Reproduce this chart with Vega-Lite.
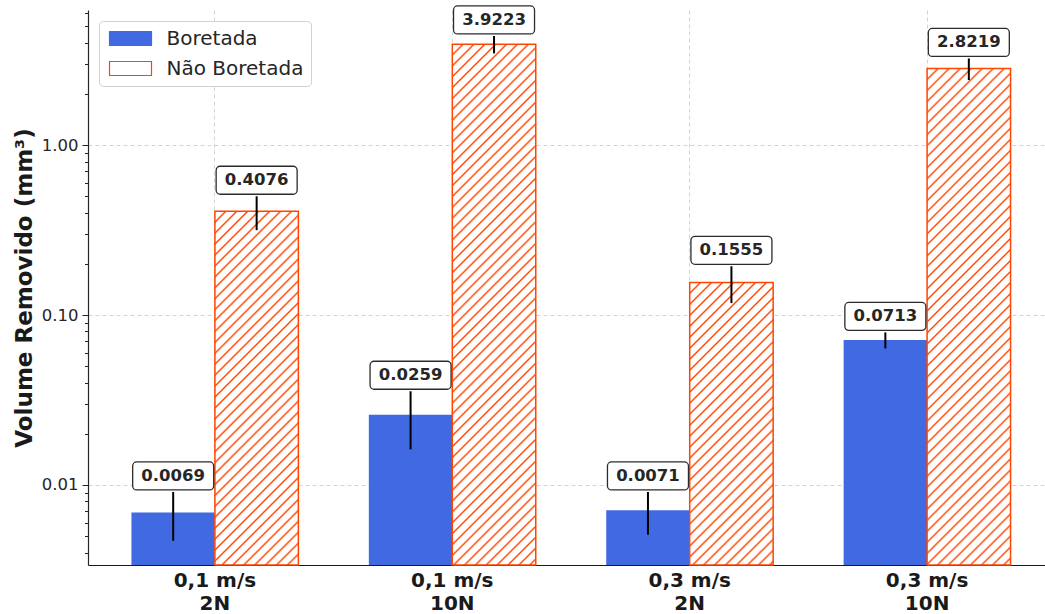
{
  "$schema": "https://vega.github.io/schema/vega-lite/v6.json",
  "width": 957,
  "height": 555,
  "autosize": {"type": "none"},
  "padding": {"left": 88, "top": 10, "right": 0, "bottom": 49},
  "background": "white",
  "config": {
    "view": {"stroke": null},
    "font": "DejaVu Sans"
  },
  "data": {
    "values": [
      {"condicao": "0,1 m/s|2N", "tipo": "Boretada", "valor": 0.0069, "erro": 0.0022},
      {"condicao": "0,1 m/s|2N", "tipo": "Não Boretada", "valor": 0.4076, "erro": 0.092},
      {"condicao": "0,1 m/s|10N", "tipo": "Boretada", "valor": 0.0259, "erro": 0.0097},
      {"condicao": "0,1 m/s|10N", "tipo": "Não Boretada", "valor": 3.9223, "erro": 0.46},
      {"condicao": "0,3 m/s|2N", "tipo": "Boretada", "valor": 0.0071, "erro": 0.002},
      {"condicao": "0,3 m/s|2N", "tipo": "Não Boretada", "valor": 0.1555, "erro": 0.038},
      {"condicao": "0,3 m/s|10N", "tipo": "Boretada", "valor": 0.0713, "erro": 0.0077},
      {"condicao": "0,3 m/s|10N", "tipo": "Não Boretada", "valor": 2.8219, "erro": 0.41}
    ]
  },
  "encoding": {
    "x": {
      "field": "condicao", "type": "nominal", "sort": null,
      "scale": {"range": [0, 966], "paddingInner": 0.2968, "paddingOuter": 0.183},
      "axis": {
        "title": null, "labelAngle": 0, "ticks": false, "bandPosition": 0.5,
        "labelExpr": "split(datum.label, '|')",
        "labelFont": "DejaVu Sans", "labelFontWeight": "bold", "labelFontSize": 20,
        "labelLineHeight": 23, "labelPadding": 5, "labelColor": "#1a1a1a",
        "domainColor": "#1a1a1a", "domainWidth": 1.2,
        "grid": true, "gridDash": [4, 3], "gridColor": "#c8c8c8", "gridWidth": 0.8
      }
    },
    "xOffset": {"field": "tipo", "type": "nominal", "scale": {"domain": ["Boretada", "Não Boretada"]}}
  },
  "layer": [
    {
      "mark": {"type": "bar"},
      "encoding": {
        "y": {
          "field": "valor", "type": "quantitative", "stack": null, "title": "Volume Removido (mm³)",
          "scale": {"type": "log", "domain": [0.003383, 6.23], "nice": false},
          "axis": {
            "values": [0.004, 0.005, 0.006, 0.007, 0.008, 0.009, 0.01, 0.02, 0.03, 0.04, 0.05, 0.06, 0.07, 0.08, 0.09, 0.1, 0.2, 0.3, 0.4, 0.5, 0.6, 0.7, 0.8, 0.9, 1, 2, 3, 4, 5, 6],
            "labelExpr": "indexof([0.01, 0.1, 1], datum.value) >= 0 ? format(datum.value, '.2f') : ''",
            "labelOverlap": false,
            "labelFont": "DejaVu Sans", "labelFontSize": 16.5, "labelColor": "#262626", "labelPadding": 4,
            "tickSize": {"condition": {"test": "indexof([0.01, 0.1, 1], datum.value) >= 0", "value": 6}, "value": 3.5},
            "tickColor": "#262626", "tickWidth": 1,
            "domainColor": "#262626", "domainWidth": 1.2,
            "grid": true, "gridDash": [4, 3], "gridColor": "#c8c8c8", "gridWidth": 0.8,
            "gridOpacity": {"condition": {"test": "indexof([0.01, 0.1, 1], datum.value) >= 0", "value": 1}, "value": 0},
            "titleFont": "DejaVu Sans", "titleFontWeight": "bold", "titleFontSize": 23, "titleColor": "#1a1a1a", "titlePadding": 5
          }
        },
        "color": {
          "field": "tipo", "type": "nominal",
          "scale": {"domain": ["Boretada", "Não Boretada"], "range": ["#4169e1", "#ffffff"]},
          "legend": {
            "title": null, "orient": "top-left", "offset": 11,
            "labelFont": "DejaVu Sans", "labelFontSize": 20, "labelColor": "#262626",
            "symbolType": "M-1,-1H5V1H-1Z", "symbolSize": 196, "labelOffset": 40, "rowPadding": 10,
            "padding": 7.5, "strokeColor": "#d0d0d0", "fillColor": "white", "cornerRadius": 4,
            "encode": {
              "symbols": {
                "update": {
                  "fill": [
                    {"test": "datum.value === 'Não Boretada'", "value": {"gradient": "linear", "x1": 0, "y1": 0, "x2": 1.2, "y2": 0.4, "stops": [
                      {"offset": 0.164, "color": "#fff"}, {"offset": 0.2, "color": "#ff4500"}, {"offset": 0.236, "color": "#fff"},
                      {"offset": 0.364, "color": "#fff"}, {"offset": 0.4, "color": "#ff4500"}, {"offset": 0.436, "color": "#fff"},
                      {"offset": 0.564, "color": "#fff"}, {"offset": 0.6, "color": "#ff4500"}, {"offset": 0.636, "color": "#fff"},
                      {"offset": 0.764, "color": "#fff"}, {"offset": 0.8, "color": "#ff4500"}, {"offset": 0.836, "color": "#fff"}
                    ]}},
                    {"value": "#4169e1"}
                  ],
                  "stroke": [
                    {"test": "datum.value === 'Não Boretada'", "value": "#ff4500"},
                    {"value": "#4169e1"}
                  ],
                  "strokeWidth": {"value": 1.2},
                  "opacity": {"value": 1}
                }
              }
            }
          }
        }
      }
    },
    {
      "transform": [{"filter": "datum.tipo === 'Não Boretada' && datum.condicao === '0,1 m/s|2N'"}],
      "mark": {"type": "bar", "stroke": "#ff4500", "strokeWidth": 1.5, "fill": {"gradient": "linear", "x1": 0, "y1": 0, "x2": 0.2764, "y2": 1.17083, "stops": [
        {"offset":0.0204,"color":"#fff"},{"offset":0.025,"color":"#ff4500"},{"offset":0.0296,"color":"#fff"},
        {"offset":0.0454,"color":"#fff"},{"offset":0.05,"color":"#ff4500"},{"offset":0.0546,"color":"#fff"},
        {"offset":0.0704,"color":"#fff"},{"offset":0.075,"color":"#ff4500"},{"offset":0.0796,"color":"#fff"},
        {"offset":0.0954,"color":"#fff"},{"offset":0.1,"color":"#ff4500"},{"offset":0.1046,"color":"#fff"},
        {"offset":0.1204,"color":"#fff"},{"offset":0.125,"color":"#ff4500"},{"offset":0.1296,"color":"#fff"},
        {"offset":0.1454,"color":"#fff"},{"offset":0.15,"color":"#ff4500"},{"offset":0.1546,"color":"#fff"},
        {"offset":0.1704,"color":"#fff"},{"offset":0.175,"color":"#ff4500"},{"offset":0.1796,"color":"#fff"},
        {"offset":0.1954,"color":"#fff"},{"offset":0.2,"color":"#ff4500"},{"offset":0.2046,"color":"#fff"},
        {"offset":0.2204,"color":"#fff"},{"offset":0.225,"color":"#ff4500"},{"offset":0.2296,"color":"#fff"},
        {"offset":0.2454,"color":"#fff"},{"offset":0.25,"color":"#ff4500"},{"offset":0.2546,"color":"#fff"},
        {"offset":0.2704,"color":"#fff"},{"offset":0.275,"color":"#ff4500"},{"offset":0.2796,"color":"#fff"},
        {"offset":0.2954,"color":"#fff"},{"offset":0.3,"color":"#ff4500"},{"offset":0.3046,"color":"#fff"},
        {"offset":0.3204,"color":"#fff"},{"offset":0.325,"color":"#ff4500"},{"offset":0.3296,"color":"#fff"},
        {"offset":0.3454,"color":"#fff"},{"offset":0.35,"color":"#ff4500"},{"offset":0.3546,"color":"#fff"},
        {"offset":0.3704,"color":"#fff"},{"offset":0.375,"color":"#ff4500"},{"offset":0.3796,"color":"#fff"},
        {"offset":0.3954,"color":"#fff"},{"offset":0.4,"color":"#ff4500"},{"offset":0.4046,"color":"#fff"},
        {"offset":0.4204,"color":"#fff"},{"offset":0.425,"color":"#ff4500"},{"offset":0.4296,"color":"#fff"},
        {"offset":0.4454,"color":"#fff"},{"offset":0.45,"color":"#ff4500"},{"offset":0.4546,"color":"#fff"},
        {"offset":0.4704,"color":"#fff"},{"offset":0.475,"color":"#ff4500"},{"offset":0.4796,"color":"#fff"},
        {"offset":0.4954,"color":"#fff"},{"offset":0.5,"color":"#ff4500"},{"offset":0.5046,"color":"#fff"},
        {"offset":0.5204,"color":"#fff"},{"offset":0.525,"color":"#ff4500"},{"offset":0.5296,"color":"#fff"},
        {"offset":0.5454,"color":"#fff"},{"offset":0.55,"color":"#ff4500"},{"offset":0.5546,"color":"#fff"},
        {"offset":0.5704,"color":"#fff"},{"offset":0.575,"color":"#ff4500"},{"offset":0.5796,"color":"#fff"},
        {"offset":0.5954,"color":"#fff"},{"offset":0.6,"color":"#ff4500"},{"offset":0.6046,"color":"#fff"},
        {"offset":0.6204,"color":"#fff"},{"offset":0.625,"color":"#ff4500"},{"offset":0.6296,"color":"#fff"},
        {"offset":0.6454,"color":"#fff"},{"offset":0.65,"color":"#ff4500"},{"offset":0.6546,"color":"#fff"},
        {"offset":0.6704,"color":"#fff"},{"offset":0.675,"color":"#ff4500"},{"offset":0.6796,"color":"#fff"},
        {"offset":0.6954,"color":"#fff"},{"offset":0.7,"color":"#ff4500"},{"offset":0.7046,"color":"#fff"},
        {"offset":0.7204,"color":"#fff"},{"offset":0.725,"color":"#ff4500"},{"offset":0.7296,"color":"#fff"},
        {"offset":0.7454,"color":"#fff"},{"offset":0.75,"color":"#ff4500"},{"offset":0.7546,"color":"#fff"},
        {"offset":0.7704,"color":"#fff"},{"offset":0.775,"color":"#ff4500"},{"offset":0.7796,"color":"#fff"},
        {"offset":0.7954,"color":"#fff"},{"offset":0.8,"color":"#ff4500"},{"offset":0.8046,"color":"#fff"},
        {"offset":0.8204,"color":"#fff"},{"offset":0.825,"color":"#ff4500"},{"offset":0.8296,"color":"#fff"},
        {"offset":0.8454,"color":"#fff"},{"offset":0.85,"color":"#ff4500"},{"offset":0.8546,"color":"#fff"},
        {"offset":0.8704,"color":"#fff"},{"offset":0.875,"color":"#ff4500"},{"offset":0.8796,"color":"#fff"},
        {"offset":0.8954,"color":"#fff"},{"offset":0.9,"color":"#ff4500"},{"offset":0.9046,"color":"#fff"},
        {"offset":0.9204,"color":"#fff"},{"offset":0.925,"color":"#ff4500"},{"offset":0.9296,"color":"#fff"},
        {"offset":0.9454,"color":"#fff"},{"offset":0.95,"color":"#ff4500"},{"offset":0.9546,"color":"#fff"},
        {"offset":0.9704,"color":"#fff"},{"offset":0.975,"color":"#ff4500"},{"offset":0.9796,"color":"#fff"}
      ]}},
      "encoding": {"y": {"field": "valor", "type": "quantitative", "stack": null, "title": "Volume Removido (mm³)"}}
    },
    {
      "transform": [{"filter": "datum.tipo === 'Não Boretada' && datum.condicao === '0,1 m/s|10N'"}],
      "mark": {"type": "bar", "stroke": "#ff4500", "strokeWidth": 1.5, "fill": {"gradient": "linear", "x1": 0, "y1": 0, "x2": 0.18138, "y2": 1.13128, "stops": [
        {"offset":0.0147,"color":"#fff"},{"offset":0.018,"color":"#ff4500"},{"offset":0.0213,"color":"#fff"},
        {"offset":0.0327,"color":"#fff"},{"offset":0.036,"color":"#ff4500"},{"offset":0.0393,"color":"#fff"},
        {"offset":0.0507,"color":"#fff"},{"offset":0.054,"color":"#ff4500"},{"offset":0.0573,"color":"#fff"},
        {"offset":0.0687,"color":"#fff"},{"offset":0.072,"color":"#ff4500"},{"offset":0.0753,"color":"#fff"},
        {"offset":0.0867,"color":"#fff"},{"offset":0.09,"color":"#ff4500"},{"offset":0.0933,"color":"#fff"},
        {"offset":0.1047,"color":"#fff"},{"offset":0.108,"color":"#ff4500"},{"offset":0.1113,"color":"#fff"},
        {"offset":0.1227,"color":"#fff"},{"offset":0.126,"color":"#ff4500"},{"offset":0.1293,"color":"#fff"},
        {"offset":0.1407,"color":"#fff"},{"offset":0.144,"color":"#ff4500"},{"offset":0.1473,"color":"#fff"},
        {"offset":0.1587,"color":"#fff"},{"offset":0.162,"color":"#ff4500"},{"offset":0.1653,"color":"#fff"},
        {"offset":0.1767,"color":"#fff"},{"offset":0.18,"color":"#ff4500"},{"offset":0.1833,"color":"#fff"},
        {"offset":0.1947,"color":"#fff"},{"offset":0.198,"color":"#ff4500"},{"offset":0.2013,"color":"#fff"},
        {"offset":0.2127,"color":"#fff"},{"offset":0.216,"color":"#ff4500"},{"offset":0.2193,"color":"#fff"},
        {"offset":0.2307,"color":"#fff"},{"offset":0.234,"color":"#ff4500"},{"offset":0.2373,"color":"#fff"},
        {"offset":0.2487,"color":"#fff"},{"offset":0.252,"color":"#ff4500"},{"offset":0.2553,"color":"#fff"},
        {"offset":0.2667,"color":"#fff"},{"offset":0.27,"color":"#ff4500"},{"offset":0.2733,"color":"#fff"},
        {"offset":0.2847,"color":"#fff"},{"offset":0.288,"color":"#ff4500"},{"offset":0.2913,"color":"#fff"},
        {"offset":0.3027,"color":"#fff"},{"offset":0.306,"color":"#ff4500"},{"offset":0.3093,"color":"#fff"},
        {"offset":0.3207,"color":"#fff"},{"offset":0.324,"color":"#ff4500"},{"offset":0.3273,"color":"#fff"},
        {"offset":0.3387,"color":"#fff"},{"offset":0.342,"color":"#ff4500"},{"offset":0.3453,"color":"#fff"},
        {"offset":0.3567,"color":"#fff"},{"offset":0.36,"color":"#ff4500"},{"offset":0.3633,"color":"#fff"},
        {"offset":0.3747,"color":"#fff"},{"offset":0.378,"color":"#ff4500"},{"offset":0.3813,"color":"#fff"},
        {"offset":0.3927,"color":"#fff"},{"offset":0.396,"color":"#ff4500"},{"offset":0.3993,"color":"#fff"},
        {"offset":0.4107,"color":"#fff"},{"offset":0.414,"color":"#ff4500"},{"offset":0.4173,"color":"#fff"},
        {"offset":0.4287,"color":"#fff"},{"offset":0.432,"color":"#ff4500"},{"offset":0.4353,"color":"#fff"},
        {"offset":0.4467,"color":"#fff"},{"offset":0.45,"color":"#ff4500"},{"offset":0.4533,"color":"#fff"},
        {"offset":0.4647,"color":"#fff"},{"offset":0.468,"color":"#ff4500"},{"offset":0.4713,"color":"#fff"},
        {"offset":0.4827,"color":"#fff"},{"offset":0.486,"color":"#ff4500"},{"offset":0.4893,"color":"#fff"},
        {"offset":0.5007,"color":"#fff"},{"offset":0.504,"color":"#ff4500"},{"offset":0.5073,"color":"#fff"},
        {"offset":0.5187,"color":"#fff"},{"offset":0.522,"color":"#ff4500"},{"offset":0.5253,"color":"#fff"},
        {"offset":0.5367,"color":"#fff"},{"offset":0.54,"color":"#ff4500"},{"offset":0.5433,"color":"#fff"},
        {"offset":0.5547,"color":"#fff"},{"offset":0.558,"color":"#ff4500"},{"offset":0.5613,"color":"#fff"},
        {"offset":0.5727,"color":"#fff"},{"offset":0.576,"color":"#ff4500"},{"offset":0.5793,"color":"#fff"},
        {"offset":0.5907,"color":"#fff"},{"offset":0.594,"color":"#ff4500"},{"offset":0.5973,"color":"#fff"},
        {"offset":0.6087,"color":"#fff"},{"offset":0.612,"color":"#ff4500"},{"offset":0.6153,"color":"#fff"},
        {"offset":0.6267,"color":"#fff"},{"offset":0.63,"color":"#ff4500"},{"offset":0.6333,"color":"#fff"},
        {"offset":0.6447,"color":"#fff"},{"offset":0.648,"color":"#ff4500"},{"offset":0.6513,"color":"#fff"},
        {"offset":0.6627,"color":"#fff"},{"offset":0.666,"color":"#ff4500"},{"offset":0.6693,"color":"#fff"},
        {"offset":0.6807,"color":"#fff"},{"offset":0.684,"color":"#ff4500"},{"offset":0.6873,"color":"#fff"},
        {"offset":0.6987,"color":"#fff"},{"offset":0.702,"color":"#ff4500"},{"offset":0.7053,"color":"#fff"},
        {"offset":0.7167,"color":"#fff"},{"offset":0.72,"color":"#ff4500"},{"offset":0.7233,"color":"#fff"},
        {"offset":0.7347,"color":"#fff"},{"offset":0.738,"color":"#ff4500"},{"offset":0.7413,"color":"#fff"},
        {"offset":0.7527,"color":"#fff"},{"offset":0.756,"color":"#ff4500"},{"offset":0.7593,"color":"#fff"},
        {"offset":0.7707,"color":"#fff"},{"offset":0.774,"color":"#ff4500"},{"offset":0.7773,"color":"#fff"},
        {"offset":0.7887,"color":"#fff"},{"offset":0.792,"color":"#ff4500"},{"offset":0.7953,"color":"#fff"},
        {"offset":0.8067,"color":"#fff"},{"offset":0.81,"color":"#ff4500"},{"offset":0.8133,"color":"#fff"},
        {"offset":0.8247,"color":"#fff"},{"offset":0.828,"color":"#ff4500"},{"offset":0.8313,"color":"#fff"},
        {"offset":0.8427,"color":"#fff"},{"offset":0.846,"color":"#ff4500"},{"offset":0.8493,"color":"#fff"},
        {"offset":0.8607,"color":"#fff"},{"offset":0.864,"color":"#ff4500"},{"offset":0.8673,"color":"#fff"},
        {"offset":0.8787,"color":"#fff"},{"offset":0.882,"color":"#ff4500"},{"offset":0.8853,"color":"#fff"},
        {"offset":0.8967,"color":"#fff"},{"offset":0.9,"color":"#ff4500"},{"offset":0.9033,"color":"#fff"},
        {"offset":0.9147,"color":"#fff"},{"offset":0.918,"color":"#ff4500"},{"offset":0.9213,"color":"#fff"},
        {"offset":0.9327,"color":"#fff"},{"offset":0.936,"color":"#ff4500"},{"offset":0.9393,"color":"#fff"},
        {"offset":0.9507,"color":"#fff"},{"offset":0.954,"color":"#ff4500"},{"offset":0.9573,"color":"#fff"},
        {"offset":0.9687,"color":"#fff"},{"offset":0.972,"color":"#ff4500"},{"offset":0.9753,"color":"#fff"},
        {"offset":0.9867,"color":"#fff"},{"offset":0.99,"color":"#ff4500"},{"offset":0.9933,"color":"#fff"}
      ]}},
      "encoding": {"y": {"field": "valor", "type": "quantitative", "stack": null, "title": "Volume Removido (mm³)"}}
    },
    {
      "transform": [{"filter": "datum.tipo === 'Não Boretada' && datum.condicao === '0,3 m/s|2N'"}],
      "mark": {"type": "bar", "stroke": "#ff4500", "strokeWidth": 1.5, "fill": {"gradient": "linear", "x1": 0, "y1": 0, "x2": 0.35204, "y2": 1.19145, "stops": [
        {"offset":0.0245,"color":"#fff"},{"offset":0.03,"color":"#ff4500"},{"offset":0.0355,"color":"#fff"},
        {"offset":0.0545,"color":"#fff"},{"offset":0.06,"color":"#ff4500"},{"offset":0.0655,"color":"#fff"},
        {"offset":0.0845,"color":"#fff"},{"offset":0.09,"color":"#ff4500"},{"offset":0.0955,"color":"#fff"},
        {"offset":0.1145,"color":"#fff"},{"offset":0.12,"color":"#ff4500"},{"offset":0.1255,"color":"#fff"},
        {"offset":0.1445,"color":"#fff"},{"offset":0.15,"color":"#ff4500"},{"offset":0.1555,"color":"#fff"},
        {"offset":0.1745,"color":"#fff"},{"offset":0.18,"color":"#ff4500"},{"offset":0.1855,"color":"#fff"},
        {"offset":0.2045,"color":"#fff"},{"offset":0.21,"color":"#ff4500"},{"offset":0.2155,"color":"#fff"},
        {"offset":0.2345,"color":"#fff"},{"offset":0.24,"color":"#ff4500"},{"offset":0.2455,"color":"#fff"},
        {"offset":0.2645,"color":"#fff"},{"offset":0.27,"color":"#ff4500"},{"offset":0.2755,"color":"#fff"},
        {"offset":0.2945,"color":"#fff"},{"offset":0.3,"color":"#ff4500"},{"offset":0.3055,"color":"#fff"},
        {"offset":0.3245,"color":"#fff"},{"offset":0.33,"color":"#ff4500"},{"offset":0.3355,"color":"#fff"},
        {"offset":0.3545,"color":"#fff"},{"offset":0.36,"color":"#ff4500"},{"offset":0.3655,"color":"#fff"},
        {"offset":0.3845,"color":"#fff"},{"offset":0.39,"color":"#ff4500"},{"offset":0.3955,"color":"#fff"},
        {"offset":0.4145,"color":"#fff"},{"offset":0.42,"color":"#ff4500"},{"offset":0.4255,"color":"#fff"},
        {"offset":0.4445,"color":"#fff"},{"offset":0.45,"color":"#ff4500"},{"offset":0.4555,"color":"#fff"},
        {"offset":0.4745,"color":"#fff"},{"offset":0.48,"color":"#ff4500"},{"offset":0.4855,"color":"#fff"},
        {"offset":0.5045,"color":"#fff"},{"offset":0.51,"color":"#ff4500"},{"offset":0.5155,"color":"#fff"},
        {"offset":0.5345,"color":"#fff"},{"offset":0.54,"color":"#ff4500"},{"offset":0.5455,"color":"#fff"},
        {"offset":0.5645,"color":"#fff"},{"offset":0.57,"color":"#ff4500"},{"offset":0.5755,"color":"#fff"},
        {"offset":0.5945,"color":"#fff"},{"offset":0.6,"color":"#ff4500"},{"offset":0.6055,"color":"#fff"},
        {"offset":0.6245,"color":"#fff"},{"offset":0.63,"color":"#ff4500"},{"offset":0.6355,"color":"#fff"},
        {"offset":0.6545,"color":"#fff"},{"offset":0.66,"color":"#ff4500"},{"offset":0.6655,"color":"#fff"},
        {"offset":0.6845,"color":"#fff"},{"offset":0.69,"color":"#ff4500"},{"offset":0.6955,"color":"#fff"},
        {"offset":0.7145,"color":"#fff"},{"offset":0.72,"color":"#ff4500"},{"offset":0.7255,"color":"#fff"},
        {"offset":0.7445,"color":"#fff"},{"offset":0.75,"color":"#ff4500"},{"offset":0.7555,"color":"#fff"},
        {"offset":0.7745,"color":"#fff"},{"offset":0.78,"color":"#ff4500"},{"offset":0.7855,"color":"#fff"},
        {"offset":0.8045,"color":"#fff"},{"offset":0.81,"color":"#ff4500"},{"offset":0.8155,"color":"#fff"},
        {"offset":0.8345,"color":"#fff"},{"offset":0.84,"color":"#ff4500"},{"offset":0.8455,"color":"#fff"},
        {"offset":0.8645,"color":"#fff"},{"offset":0.87,"color":"#ff4500"},{"offset":0.8755,"color":"#fff"},
        {"offset":0.8945,"color":"#fff"},{"offset":0.9,"color":"#ff4500"},{"offset":0.9055,"color":"#fff"},
        {"offset":0.9245,"color":"#fff"},{"offset":0.93,"color":"#ff4500"},{"offset":0.9355,"color":"#fff"},
        {"offset":0.9545,"color":"#fff"},{"offset":0.96,"color":"#ff4500"},{"offset":0.9655,"color":"#fff"},
        {"offset":0.9845,"color":"#fff"},{"offset":0.99,"color":"#ff4500"},{"offset":0.9955,"color":"#fff"}
      ]}},
      "encoding": {"y": {"field": "valor", "type": "quantitative", "stack": null, "title": "Volume Removido (mm³)"}}
    },
    {
      "transform": [{"filter": "datum.tipo === 'Não Boretada' && datum.condicao === '0,3 m/s|10N'"}],
      "mark": {"type": "bar", "stroke": "#ff4500", "strokeWidth": 1.5, "fill": {"gradient": "linear", "x1": 0, "y1": 0, "x2": 0.19106, "y2": 1.13604, "stops": [
        {"offset":0.0156,"color":"#fff"},{"offset":0.019,"color":"#ff4500"},{"offset":0.0224,"color":"#fff"},
        {"offset":0.0346,"color":"#fff"},{"offset":0.038,"color":"#ff4500"},{"offset":0.0414,"color":"#fff"},
        {"offset":0.0536,"color":"#fff"},{"offset":0.057,"color":"#ff4500"},{"offset":0.0604,"color":"#fff"},
        {"offset":0.0726,"color":"#fff"},{"offset":0.076,"color":"#ff4500"},{"offset":0.0794,"color":"#fff"},
        {"offset":0.0916,"color":"#fff"},{"offset":0.095,"color":"#ff4500"},{"offset":0.0984,"color":"#fff"},
        {"offset":0.1106,"color":"#fff"},{"offset":0.114,"color":"#ff4500"},{"offset":0.1174,"color":"#fff"},
        {"offset":0.1296,"color":"#fff"},{"offset":0.133,"color":"#ff4500"},{"offset":0.1364,"color":"#fff"},
        {"offset":0.1486,"color":"#fff"},{"offset":0.152,"color":"#ff4500"},{"offset":0.1554,"color":"#fff"},
        {"offset":0.1676,"color":"#fff"},{"offset":0.171,"color":"#ff4500"},{"offset":0.1744,"color":"#fff"},
        {"offset":0.1866,"color":"#fff"},{"offset":0.19,"color":"#ff4500"},{"offset":0.1934,"color":"#fff"},
        {"offset":0.2056,"color":"#fff"},{"offset":0.209,"color":"#ff4500"},{"offset":0.2124,"color":"#fff"},
        {"offset":0.2246,"color":"#fff"},{"offset":0.228,"color":"#ff4500"},{"offset":0.2314,"color":"#fff"},
        {"offset":0.2436,"color":"#fff"},{"offset":0.247,"color":"#ff4500"},{"offset":0.2504,"color":"#fff"},
        {"offset":0.2626,"color":"#fff"},{"offset":0.266,"color":"#ff4500"},{"offset":0.2694,"color":"#fff"},
        {"offset":0.2816,"color":"#fff"},{"offset":0.285,"color":"#ff4500"},{"offset":0.2884,"color":"#fff"},
        {"offset":0.3006,"color":"#fff"},{"offset":0.304,"color":"#ff4500"},{"offset":0.3074,"color":"#fff"},
        {"offset":0.3196,"color":"#fff"},{"offset":0.323,"color":"#ff4500"},{"offset":0.3264,"color":"#fff"},
        {"offset":0.3386,"color":"#fff"},{"offset":0.342,"color":"#ff4500"},{"offset":0.3454,"color":"#fff"},
        {"offset":0.3576,"color":"#fff"},{"offset":0.361,"color":"#ff4500"},{"offset":0.3644,"color":"#fff"},
        {"offset":0.3766,"color":"#fff"},{"offset":0.38,"color":"#ff4500"},{"offset":0.3834,"color":"#fff"},
        {"offset":0.3956,"color":"#fff"},{"offset":0.399,"color":"#ff4500"},{"offset":0.4024,"color":"#fff"},
        {"offset":0.4146,"color":"#fff"},{"offset":0.418,"color":"#ff4500"},{"offset":0.4214,"color":"#fff"},
        {"offset":0.4336,"color":"#fff"},{"offset":0.437,"color":"#ff4500"},{"offset":0.4404,"color":"#fff"},
        {"offset":0.4526,"color":"#fff"},{"offset":0.456,"color":"#ff4500"},{"offset":0.4594,"color":"#fff"},
        {"offset":0.4716,"color":"#fff"},{"offset":0.475,"color":"#ff4500"},{"offset":0.4784,"color":"#fff"},
        {"offset":0.4906,"color":"#fff"},{"offset":0.494,"color":"#ff4500"},{"offset":0.4974,"color":"#fff"},
        {"offset":0.5096,"color":"#fff"},{"offset":0.513,"color":"#ff4500"},{"offset":0.5164,"color":"#fff"},
        {"offset":0.5286,"color":"#fff"},{"offset":0.532,"color":"#ff4500"},{"offset":0.5354,"color":"#fff"},
        {"offset":0.5476,"color":"#fff"},{"offset":0.551,"color":"#ff4500"},{"offset":0.5544,"color":"#fff"},
        {"offset":0.5666,"color":"#fff"},{"offset":0.57,"color":"#ff4500"},{"offset":0.5734,"color":"#fff"},
        {"offset":0.5856,"color":"#fff"},{"offset":0.589,"color":"#ff4500"},{"offset":0.5924,"color":"#fff"},
        {"offset":0.6046,"color":"#fff"},{"offset":0.608,"color":"#ff4500"},{"offset":0.6114,"color":"#fff"},
        {"offset":0.6236,"color":"#fff"},{"offset":0.627,"color":"#ff4500"},{"offset":0.6304,"color":"#fff"},
        {"offset":0.6426,"color":"#fff"},{"offset":0.646,"color":"#ff4500"},{"offset":0.6494,"color":"#fff"},
        {"offset":0.6616,"color":"#fff"},{"offset":0.665,"color":"#ff4500"},{"offset":0.6684,"color":"#fff"},
        {"offset":0.6806,"color":"#fff"},{"offset":0.684,"color":"#ff4500"},{"offset":0.6874,"color":"#fff"},
        {"offset":0.6996,"color":"#fff"},{"offset":0.703,"color":"#ff4500"},{"offset":0.7064,"color":"#fff"},
        {"offset":0.7186,"color":"#fff"},{"offset":0.722,"color":"#ff4500"},{"offset":0.7254,"color":"#fff"},
        {"offset":0.7376,"color":"#fff"},{"offset":0.741,"color":"#ff4500"},{"offset":0.7444,"color":"#fff"},
        {"offset":0.7566,"color":"#fff"},{"offset":0.76,"color":"#ff4500"},{"offset":0.7634,"color":"#fff"},
        {"offset":0.7756,"color":"#fff"},{"offset":0.779,"color":"#ff4500"},{"offset":0.7824,"color":"#fff"},
        {"offset":0.7946,"color":"#fff"},{"offset":0.798,"color":"#ff4500"},{"offset":0.8014,"color":"#fff"},
        {"offset":0.8136,"color":"#fff"},{"offset":0.817,"color":"#ff4500"},{"offset":0.8204,"color":"#fff"},
        {"offset":0.8326,"color":"#fff"},{"offset":0.836,"color":"#ff4500"},{"offset":0.8394,"color":"#fff"},
        {"offset":0.8516,"color":"#fff"},{"offset":0.855,"color":"#ff4500"},{"offset":0.8584,"color":"#fff"},
        {"offset":0.8706,"color":"#fff"},{"offset":0.874,"color":"#ff4500"},{"offset":0.8774,"color":"#fff"},
        {"offset":0.8896,"color":"#fff"},{"offset":0.893,"color":"#ff4500"},{"offset":0.8964,"color":"#fff"},
        {"offset":0.9086,"color":"#fff"},{"offset":0.912,"color":"#ff4500"},{"offset":0.9154,"color":"#fff"},
        {"offset":0.9276,"color":"#fff"},{"offset":0.931,"color":"#ff4500"},{"offset":0.9344,"color":"#fff"},
        {"offset":0.9466,"color":"#fff"},{"offset":0.95,"color":"#ff4500"},{"offset":0.9534,"color":"#fff"},
        {"offset":0.9656,"color":"#fff"},{"offset":0.969,"color":"#ff4500"},{"offset":0.9724,"color":"#fff"},
        {"offset":0.9846,"color":"#fff"},{"offset":0.988,"color":"#ff4500"},{"offset":0.9914,"color":"#fff"}
      ]}},
      "encoding": {"y": {"field": "valor", "type": "quantitative", "stack": null, "title": "Volume Removido (mm³)"}}
    },
    {
      "transform": [
        {"calculate": "datum.valor - datum.erro", "as": "inferior"},
        {"calculate": "datum.valor + datum.erro", "as": "superior"}
      ],
      "mark": {"type": "rule", "color": "black", "strokeWidth": 2},
      "encoding": {
        "y": {"field": "inferior", "type": "quantitative", "title": "Volume Removido (mm³)"},
        "y2": {"field": "superior"}
      }
    },
    {
      "transform": [{"calculate": "datum.valor + datum.erro", "as": "superior"}],
      "mark": {
        "type": "point", "filled": true, "fill": "white", "stroke": "#2b2b2b", "strokeWidth": 1.3, "opacity": 1,
        "size": 6561, "yOffset": -16,
        "shape": "M-0.9,-0.3457L0.9,-0.3457A0.1,0.1 0 0 1 1,-0.2457L1,0.2457A0.1,0.1 0 0 1 0.9,0.3457L-0.9,0.3457A0.1,0.1 0 0 1 -1,0.2457L-1,-0.2457A0.1,0.1 0 0 1 -0.9,-0.3457Z"
      },
      "encoding": {
        "y": {"field": "superior", "type": "quantitative", "title": "Volume Removido (mm³)"}
      }
    },
    {
      "transform": [{"calculate": "datum.valor + datum.erro", "as": "superior"}],
      "mark": {
        "type": "text", "font": "DejaVu Sans", "fontWeight": "bold", "fontSize": 16.5,
        "color": "#262626", "baseline": "middle", "align": "center", "yOffset": -16
      },
      "encoding": {
        "y": {"field": "superior", "type": "quantitative", "title": "Volume Removido (mm³)"},
        "text": {"field": "valor", "type": "quantitative", "format": ".4f"}
      }
    }
  ]
}
